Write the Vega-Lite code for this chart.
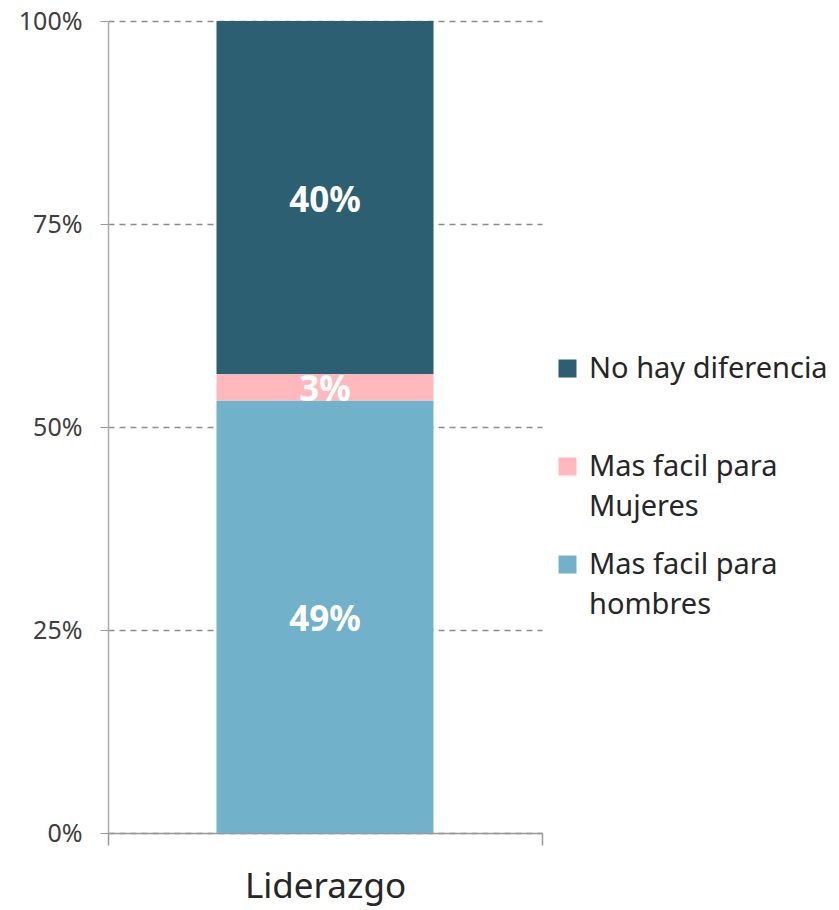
{
  "$schema": "https://vega.github.io/schema/vega-lite/v6.json",
  "width": 434,
  "height": 812,
  "autosize": "none",
  "padding": {"left": 108, "top": 21, "right": 297, "bottom": 77},
  "background": "white",
  "config": {
    "font": "Noto Sans",
    "view": {"stroke": null},
    "style": {"guide-label": {"lineHeight": 40}}
  },
  "data": {
    "values": [
      {"cat": "Liderazgo", "serie": "Mas facil para hombres", "value": 49, "label": "49%", "order": 1},
      {"cat": "Liderazgo", "serie": "Mas facil para Mujeres", "value": 3, "label": "3%", "order": 2},
      {"cat": "Liderazgo", "serie": "No hay diferencia", "value": 40, "label": "40%", "order": 3}
    ]
  },
  "encoding": {
    "x": {
      "field": "cat",
      "type": "nominal",
      "title": null,
      "scale": {"paddingInner": 0, "paddingOuter": 0},
      "axis": {
        "tickBand": "extent",
        "labelAngle": 0,
        "labelFontSize": 35,
        "labelColor": "#262626",
        "labelPadding": 24,
        "tickSize": 12,
        "tickColor": "#999999",
        "tickWidth": 1.5,
        "domainColor": "#999999",
        "domainWidth": 1.5,
        "grid": false
      }
    }
  },
  "layer": [
    {
      "mark": {"type": "bar", "width": {"band": 0.5}},
      "encoding": {
        "y": {
          "field": "value",
          "type": "quantitative",
          "stack": "normalize",
          "title": null,
          "scale": {"domain": [0, 1]},
          "axis": {
            "values": [0, 0.25, 0.5, 0.75, 1],
            "format": ".0%",
            "labelFontSize": 25,
            "labelColor": "#404040",
            "labelPadding": 18,
            "tickSize": 8,
            "tickColor": "#999999",
            "domainColor": "#aaaaaa",
            "domainWidth": 1.5,
            "grid": true,
            "gridColor": "#8c8c8c",
            "gridDash": [6, 5],
            "gridWidth": 1.3
          }
        },
        "color": {
          "field": "serie",
          "type": "nominal",
          "scale": {
            "domain": ["No hay diferencia", "Mas facil para Mujeres", "Mas facil para hombres"],
            "range": ["#2B5F71", "#FFB9BC", "#71B1C9"]
          },
          "legend": {
            "title": null,
            "orient": "none",
            "legendX": 445,
            "legendY": 333,
            "symbolType": "square",
            "symbolSize": 324,
            "symbolStrokeWidth": 0,
            "labelFontSize": 29,
            "labelColor": "#262626",
            "labelOffset": 7,
            "labelLimit": 400,
            "rowPadding": 28,
            "labelExpr": "datum.label == 'No hay diferencia' ? ['No hay diferencia', ''] : (datum.label == 'Mas facil para Mujeres' ? ['Mas facil para', 'Mujeres'] : ['Mas facil para', 'hombres'])"
          }
        },
        "order": {"field": "order", "type": "quantitative"}
      }
    },
    {
      "mark": {"type": "text", "fontWeight": "bold", "fontSize": 35, "color": "white", "baseline": "middle", "dy": 3},
      "encoding": {
        "y": {"field": "value", "type": "quantitative", "stack": "normalize", "bandPosition": 0.5},
        "detail": {"field": "serie"},
        "text": {"field": "label"},
        "order": {"field": "order", "type": "quantitative"}
      }
    }
  ]
}
